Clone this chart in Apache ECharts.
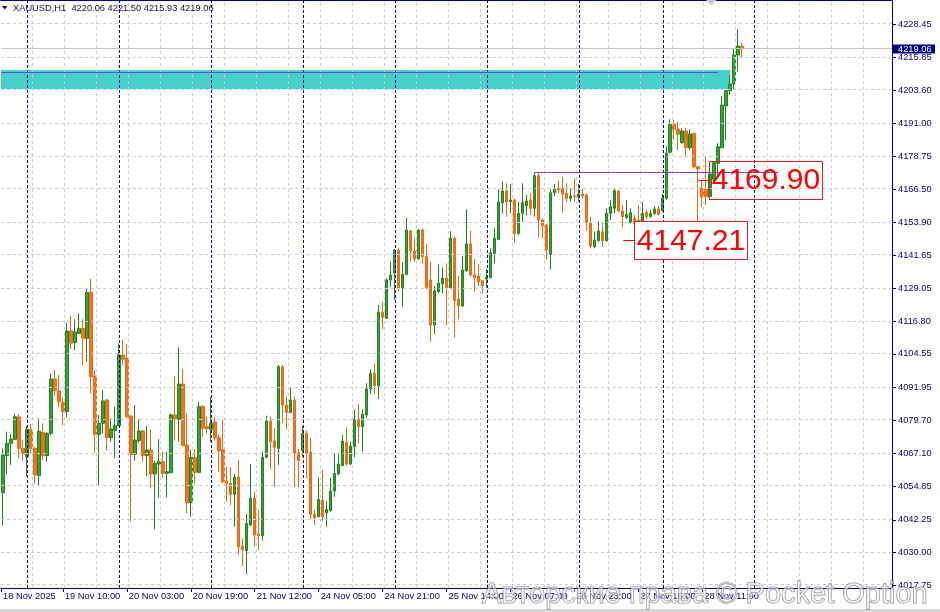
<!DOCTYPE html>
<html><head><meta charset="utf-8">
<script src="https://cdn.jsdelivr.net/npm/echarts@6/dist/echarts.min.js"></script>
<style>html,body{margin:0;padding:0;background:#fff}#c{width:940px;height:612px}</style>
</head><body><div id="c"></div>
<script>
// ---- data (XAUUSD H1, bar index 0 = 18 Nov 18:00) ----
const symbolName = 'XAUUSD,H1';
const opens = [4052.43,4066.32,4070.96,4072.46,4080.85,4069.08,4065.95,4076.21,4069.08,4058.81,4075.09,4066.32,4074.71,4095.12,4090.61,4086.23,4082.85,4113.15,4108.77,4112.27,4114.15,4110.39,4127.67,4096.25,4074.34,4078.47,4087.23,4073.08,4075.71,4077.59,4104.13,4102.88,4081.22,4066.82,4071.96,4075.59,4066.32,4068.45,4059.44,4063.19,4064.07,4059.69,4059.94,4081.60,4079.97,4093.24,4070.33,4048.67,4065.70,4060.06,4084.73,4077.22,4076.21,4078.97,4073.08,4068.45,4056.81,4055.93,4051.80,4058.19,4032.39,4030.64,4040.28,4050.30,4036.90,4036.28,4065.70,4079.34,4071.83,4069.08,4099.75,4085.35,4082.60,4087.23,4067.45,4068.20,4074.71,4067.57,4044.28,4043.41,4049.67,4044.91,4045.66,4053.05,4059.43,4062.56,4071.33,4063.19,4069.70,4080.09,4077.21,4081.59,4091.36,4097.24,4092.61,4120.15,4117.90,4132.30,4135.06,4143.57,4129.42,4134.43,4150.70,4143.19,4140.19,4151.08,4141.06,4132.30,4115.40,4127.92,4130.80,4132.93,4129.42,4147.95,4125.16,4122.53,4135.68,4145.82,4134.18,4133.80,4132.05,4132.68,4133.18,4142.32,4147.57,4161.35,4165.73,4161.72,4162.35,4149.83,4157.33,4160.21,4162.34,4159.21,4171.48,4154.83,4152.95,4141.93,4165.10,4166.72,4166.72,4164.85,4162.97,4163.84,4163.59,4164.60,4164.22,4153.95,4144.81,4147.07,4150.45,4147.07,4157.33,4159.21,4165.72,4158.21,4155.83,4153.83,4155.46,4154.83,4152.95,4157.71,4156.08,4157.33,4158.96,4158.34,4162.97,4180.25,4190.76,4189.01,4183.88,4188.26,4182.00,4187.38,4174.86,4166.72,4166.35,4163.59,4170.10,4176.12,4182.00,4197.65,4203.41,4205.91,4216.80,4220.06];
const highs = [4069.08,4075.34,4074.46,4081.97,4081.97,4072.21,4077.47,4078.22,4069.70,4080.35,4078.47,4075.09,4097.25,4098.50,4096.62,4087.86,4116.28,4118.78,4117.53,4119.78,4117.53,4128.92,4132.68,4098.50,4081.60,4091.00,4087.50,4080.35,4084.73,4108.52,4109.77,4108.27,4081.50,4085.35,4079.97,4075.96,4077.47,4076.21,4064.32,4072.46,4067.83,4067.83,4082.22,4096.25,4107.01,4098.75,4082.22,4068.45,4068.83,4086.61,4085.35,4080.97,4088.48,4080.97,4074.34,4079.72,4062.19,4062.19,4059.44,4064.70,4035.27,4044.41,4063.19,4052.80,4045.92,4067.83,4081.35,4080.97,4076.59,4100.38,4100.38,4088.48,4091.99,4088.48,4068.83,4077.46,4075.71,4072.83,4045.91,4058.06,4060.94,4049.29,4058.06,4067.20,4067.45,4074.08,4076.96,4071.58,4083.72,4085.73,4083.72,4093.49,4098.75,4101.00,4122.91,4124.16,4132.93,4139.19,4143.94,4144.19,4138.94,4155.71,4151.08,4147.95,4151.33,4151.71,4145.82,4139.19,4130.05,4138.18,4137.06,4138.56,4150.70,4148.58,4133.80,4141.31,4158.84,4150.70,4140.19,4138.31,4132.30,4136.43,4144.19,4151.71,4166.35,4169.23,4168.61,4168.36,4162.97,4161.72,4168.60,4164.22,4164.85,4172.73,4172.61,4155.46,4153.33,4166.35,4168.35,4169.60,4171.11,4168.60,4166.72,4170.48,4168.35,4166.47,4164.85,4156.08,4150.45,4154.20,4154.20,4159.21,4162.34,4166.72,4166.10,4160.46,4162.34,4159.21,4156.70,4160.46,4161.71,4158.84,4158.58,4160.09,4160.09,4164.85,4182.50,4192.64,4192.39,4191.76,4189.26,4189.26,4188.89,4187.60,4175.10,4169.85,4178.62,4176.74,4176.74,4183.63,4201.40,4203.66,4209.29,4219.31,4226.44,4221.50];
const lows = [4040.03,4059.44,4062.82,4072.21,4065.32,4064.45,4058.44,4067.20,4055.93,4055.06,4064.70,4064.07,4073.84,4088.86,4084.48,4077.84,4080.60,4106.39,4106.01,4112.02,4100.38,4101.63,4089.74,4067.45,4054.93,4074.71,4068.45,4071.58,4065.32,4077.22,4100.38,4080.35,4041.53,4064.45,4070.96,4064.07,4058.69,4054.05,4038.65,4050.55,4057.81,4050.55,4059.69,4071.96,4071.58,4069.95,4044.66,4043.41,4055.93,4059.69,4073.46,4074.71,4071.58,4071.96,4060.31,4055.93,4049.05,4047.79,4039.66,4029.26,4024.88,4021.88,4039.91,4032.14,4030.89,4034.40,4065.32,4061.19,4054.68,4062.82,4078.72,4076.21,4082.22,4054.68,4054.43,4065.94,4057.81,4042.41,4040.28,4043.16,4041.91,4039.65,4045.29,4050.92,4059.06,4062.44,4062.56,4062.82,4065.69,4070.95,4067.82,4080.72,4089.48,4089.73,4087.60,4113.90,4117.65,4129.80,4124.79,4127.92,4122.28,4134.18,4139.19,4139.19,4140.06,4138.56,4128.92,4109.14,4112.02,4127.29,4127.29,4115.40,4129.17,4110.64,4117.53,4122.28,4135.43,4133.55,4127.92,4130.05,4127.29,4129.42,4132.93,4138.56,4147.32,4157.34,4156.09,4157.34,4146.45,4149.20,4154.20,4156.71,4156.71,4156.08,4148.32,4147.94,4140.06,4136.30,4163.84,4164.85,4157.58,4161.72,4161.72,4161.72,4161.72,4162.97,4150.82,4144.19,4144.19,4146.69,4144.81,4146.69,4154.83,4157.33,4157.96,4152.07,4155.21,4153.58,4152.58,4152.32,4152.32,4155.08,4155.83,4156.70,4156.70,4157.96,4162.34,4179.87,4184.88,4181.12,4183.50,4178.37,4181.12,4174.24,4147.21,4159.84,4160.46,4162.34,4168.60,4171.11,4181.75,4184.88,4201.78,4203.66,4210.55,4215.93];
const closes = [4066.57,4070.96,4072.58,4080.97,4069.08,4067.20,4076.21,4069.08,4059.06,4075.46,4066.32,4074.71,4095.12,4090.74,4086.61,4082.85,4113.15,4108.52,4112.77,4114.15,4110.39,4127.67,4096.00,4074.34,4078.47,4086.86,4073.08,4076.34,4077.59,4104.13,4102.51,4080.97,4066.82,4072.21,4075.59,4066.32,4068.45,4059.44,4063.44,4064.07,4059.69,4060.31,4081.60,4080.10,4093.24,4070.08,4048.67,4065.70,4060.06,4084.73,4076.59,4076.46,4078.47,4073.08,4068.20,4056.56,4055.93,4051.80,4058.19,4032.14,4030.89,4040.91,4050.30,4036.53,4036.28,4065.70,4079.34,4071.58,4069.45,4099.75,4085.35,4082.60,4087.23,4067.20,4064.45,4074.71,4067.20,4044.28,4043.03,4049.92,4043.41,4046.16,4053.05,4059.68,4063.19,4071.83,4063.19,4069.95,4080.09,4077.21,4081.84,4091.36,4097.24,4092.61,4120.15,4118.28,4132.30,4134.18,4143.57,4129.17,4134.43,4151.08,4143.19,4140.19,4151.08,4141.06,4129.55,4115.40,4128.17,4131.05,4132.93,4129.42,4147.95,4124.54,4122.53,4136.06,4145.82,4134.18,4133.18,4131.67,4130.17,4133.30,4142.57,4147.95,4161.60,4165.73,4161.60,4162.35,4149.83,4157.34,4161.34,4161.97,4159.21,4171.48,4154.83,4152.70,4143.56,4165.10,4166.72,4166.10,4164.60,4162.97,4163.84,4163.59,4164.60,4163.97,4153.95,4145.06,4147.32,4150.70,4147.07,4157.33,4159.84,4165.85,4158.21,4156.08,4156.96,4157.58,4153.33,4152.58,4157.33,4156.08,4157.33,4158.96,4156.96,4162.97,4180.00,4190.76,4189.01,4187.01,4188.26,4182.00,4187.13,4174.86,4173.99,4163.59,4163.59,4172.11,4176.37,4182.37,4198.02,4203.41,4205.91,4216.80,4220.18,4219.06];

const yTickLabels = [4228.45,4215.85,4203.60,4191.00,4178.75,4166.50,4153.90,4141.65,4129.05,4116.80,4104.55,4091.95,4079.70,4067.10,4054.85,4042.25,4030.00,4017.75];
const yMin = 4016.62, yMax = 4237.46;
const xMin = -0.5, xMax = 222.5;
const xTickIdx = [-0.5,15,31,47,63,79,95,111,127,143,159,175];
const xTickLabels = ['18 Nov 2025','19 Nov 10:00','20 Nov 03:00','20 Nov 19:00','21 Nov 12:00','24 Nov 05:00','24 Nov 21:00','25 Nov 14:00','26 Nov 07:00','26 Nov 23:00','27 Nov 16:00','28 Nov 11:00'];
const daySeparators = [6,29,52,75,98,121,144,165,188];
const zoneLow = 4204.03, zoneHigh = 4211.17, zoneEndIdx = 182;
const zoneLinePrice = 4210.16, zoneLineEndIdx = 179;
const trendPrice = 4172.73, trendStartIdx = 133, trendEndIdx = 194;
const tagUpper = {idx:174, price:4169.90};
const tagLower = {idx:155.25, price:4147.21};
const watermarkText = 'Авторские права © Pocket Option';

// ---- chart ----
const NAVY = '#000080';
const FONT = '"Liberation Sans", Arial, sans-serif';
const chart = echarts.init(document.getElementById('c'));
const last = opens.length - 1;
const candleData = opens.map((o, i) => [i, o, closes[i], lows[i], highs[i]]);
// half-pixel offsets so 1px grid lines render crisp
const halfX = 0.5 * (xMax - xMin) / 892;
const halfY = 0.5 * (yMax - yMin) / 588;
const vGrid = [];
for (let v = 7.25; v < xMax; v += 8) vGrid.push(v + halfX);
const gridDash = {color:'#cdcdcd', type:[3,3], width:1};

const option = {
  animation: false,
  backgroundColor: '#ffffff',
  grid: {left:0, right:48, top:0, bottom:24},
  xAxis: [{
    type:'value', min:xMin, max:xMax,
    axisLine:{show:true, onZero:false, lineStyle:{color:NAVY, width:1}},
    axisTick:{show:true, customValues:xTickIdx, length:4, lineStyle:{color:NAVY}},
    axisLabel:{show:true, customValues:xTickIdx, showMinLabel:true,
      formatter: v => { const k = xTickIdx.indexOf(v); return k >= 0 ? xTickLabels[k] : ''; },
      align:'left', color:NAVY, fontSize:9.3, fontFamily:FONT, margin:4, padding:[0,0,0,2]},
    splitLine:{show:false}
  },{
    type:'value', position:'top', min:xMin, max:xMax,
    axisLine:{show:true, onZero:false, lineStyle:{color:NAVY, width:2}},
    axisTick:{show:false}, axisLabel:{show:false}, splitLine:{show:false}
  }],
  yAxis: {
    type:'value', position:'right', min:yMin, max:yMax,
    axisLine:{show:true, onZero:false, lineStyle:{color:NAVY}},
    axisTick:{show:true, customValues:yTickLabels, length:4, lineStyle:{color:NAVY}},
    axisLabel:{show:true, customValues:yTickLabels, formatter: v => v.toFixed(2),
      color:NAVY, fontSize:9.3, fontFamily:FONT, margin:6},
    splitLine:{show:false}
  },
  series: [{
    type:'line', data:[], silent:true, z:1,
    markLine:{silent:true, symbol:['none','none'], animation:false, label:{show:false},
      emphasis:{disabled:true},
      data:[
        ...vGrid.map(v => ({xAxis:v, lineStyle:gridDash})),
        ...yTickLabels.map(v => ({yAxis:v + halfY, lineStyle:gridDash})),
        ...daySeparators.map(v => ({xAxis:v + halfX, lineStyle:{color:NAVY, type:[3,2], width:1}})),
        [{coord:[xMin, closes[last] + halfY], lineStyle:{color:'#c4c4c4', type:'solid', width:1}}, {coord:[xMax, closes[last] + halfY]}]
      ]},
    markArea:{silent:true, itemStyle:{color:'#48d1cc'}, emphasis:{disabled:true},
      data:[[{coord:[xMin, zoneHigh]}, {coord:[zoneEndIdx, zoneLow]}]]}
  },{
    type:'candlestick', z:3,
    dimensions:['x','open','close','lowest','highest'],
    encode:{x:'x', y:['open','close','lowest','highest']},
    data: candleData, barWidth:3,
    itemStyle:{color:'#36a336', color0:'#f5731d', borderColor:'#1f861f', borderColor0:'#ec6812', borderWidth:1},
    emphasis:{disabled:true}
  },{
    type:'line', data:[], silent:true, z:4,
    markLine:{silent:true, symbol:['none','none'], animation:false, label:{show:false}, emphasis:{disabled:true},
      data:[
        [{coord:[xMin, zoneLinePrice + halfY], lineStyle:{color:'#5a4fd0', type:'solid', width:1}}, {coord:[zoneLineEndIdx, zoneLinePrice + halfY]}],
        [{coord:[trendStartIdx, trendPrice + halfY], lineStyle:{color:'#8a40c4', type:'solid', width:1}}, {coord:[trendEndIdx, trendPrice + halfY]}]
      ]}
  }]
};
chart.setOption(option);

const px = (i, p) => chart.convertToPixel({gridIndex:0}, [i, p]);
function priceTag(tag, fill) {
  const [x, y] = px(tag.idx, tag.price);
  const yy = Math.round(y) + 0.5;
  return [
    {type:'line', shape:{x1:x, y1:yy, x2:x+11, y2:yy}, style:{stroke:'#ff0000', lineWidth:1}, z:100},
    {type:'rect', shape:{x:Math.round(x+11)+0.5, y:Math.round(y-19)+0.5, width:113, height:38}, style:{fill:fill, stroke:'#d82020', lineWidth:1}, z:100},
    {type:'text', x:x+13.5, y:y+1, style:{text:tag.price.toFixed(2), fontSize:30, fontFamily:FONT, fill:'#ff0000', verticalAlign:'middle', align:'left'}, z:101}
  ];
}
const [, yLast] = px(xMax, closes[last]);
const [xShift] = px(177.25, yMax);
const graphics = [
  {type:'rect', shape:{x:0, y:609, width:940, height:3}, style:{fill:'#d6d6d6'}, z:90},
  {type:'polygon', shape:{points:[[2,6],[7.5,6],[4.75,9.5]]}, style:{fill:NAVY}, z:100},
  {type:'text', x:13, y:8, style:{text:symbolName + '  ' + [opens[last], highs[last], lows[last], closes[last]].map(v => v.toFixed(2)).join(' '),
     fontSize:9.3, fontFamily:FONT, fill:'#10105a', verticalAlign:'middle'}, z:100},
  {type:'polygon', shape:{points:[[xShift-5,0],[xShift+5,0],[xShift,5.5]]}, style:{fill:'#c6c6dc'}, z:100},
  {type:'rect', shape:{x:893, y:yLast-4.5, width:42, height:9}, style:{fill:NAVY}, z:100},
  {type:'text', x:898, y:yLast+0.5, style:{text:closes[last].toFixed(2), fontSize:9.3, fontFamily:FONT, fill:'#ffffff', verticalAlign:'middle'}, z:101},
  ...priceTag(tagUpper, 'rgba(255,255,255,0)'),
  ...priceTag(tagLower, '#ffffff'),
  {type:'text', x:482, y:594.5, style:{text:watermarkText, fontSize:29, fontFamily:FONT,
     fill:'rgba(255,255,255,0.55)', stroke:'rgba(105,105,105,0.8)', lineWidth:1, verticalAlign:'middle'}, z:110}
];
chart.setOption({graphic: graphics});
</script>
</body></html>
